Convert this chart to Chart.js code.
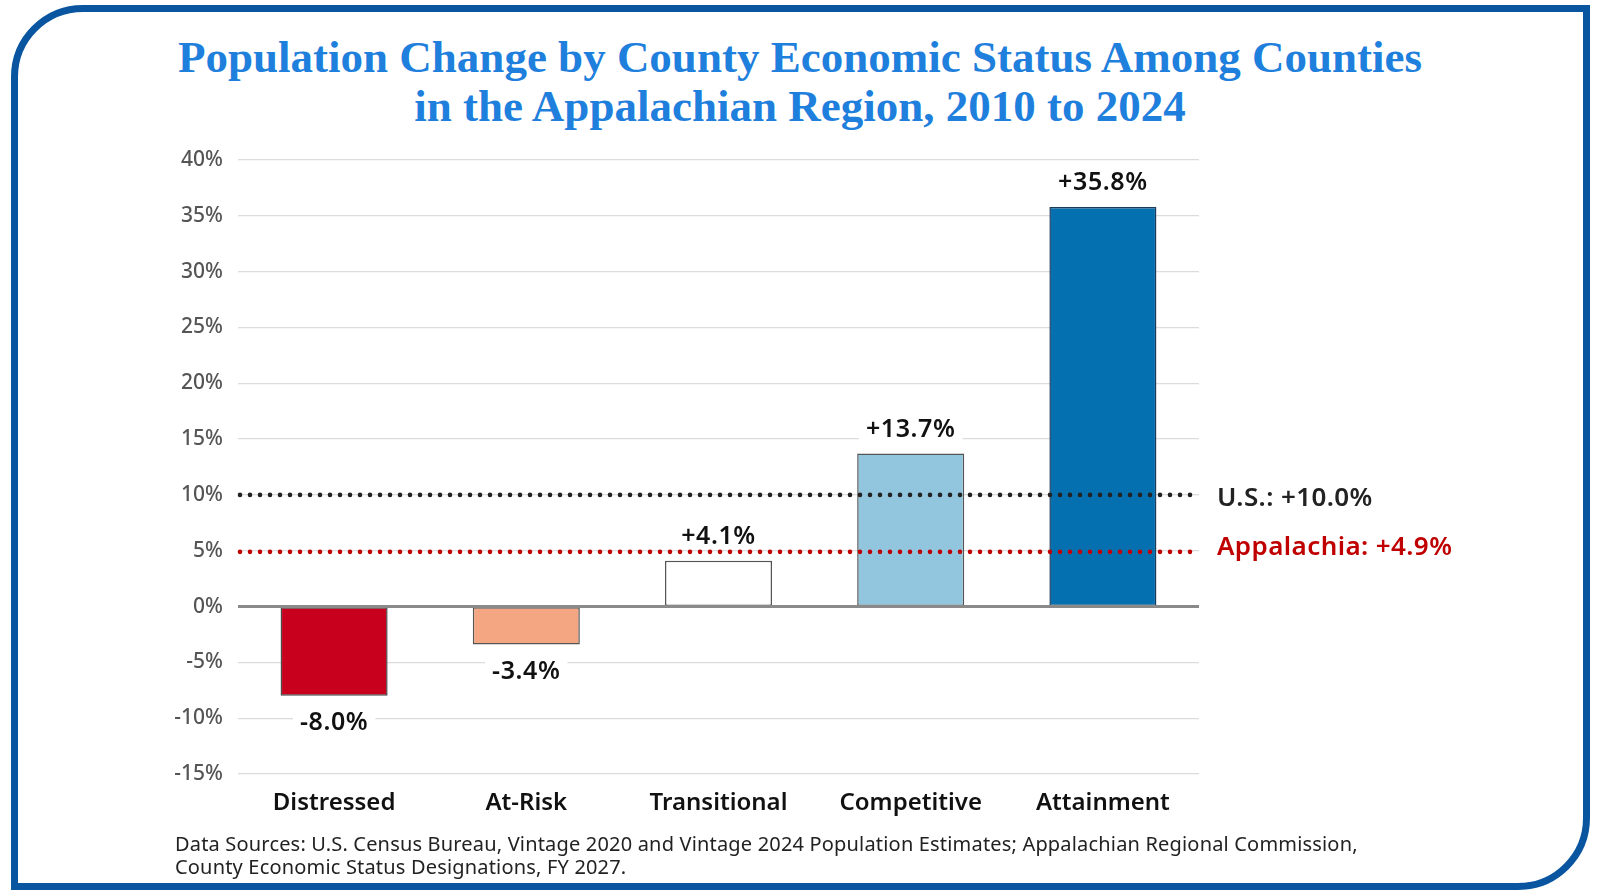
<!DOCTYPE html>
<html>
<head>
<meta charset="utf-8">
<script src="https://cdn.jsdelivr.net/npm/chart.js@4/dist/chart.umd.min.js"></script>
<style>
  html, body { margin: 0; padding: 0; background: #fff; }
  body { width: 1600px; height: 895px; position: relative; overflow: hidden; }
  #frame {
    position: absolute; left: 11px; top: 5px; width: 1565px; height: 871px;
    border: 7px solid #0a55a0; border-radius: 72px 0 72px 0;
  }
  .title {
    position: absolute; font-family: "Liberation Serif", serif; font-weight: bold;
    font-size: 45px; line-height: 49px; color: #1f7fdc; white-space: nowrap;
    transform: translateX(-50%);
  }
  #note {
    position: absolute; left: 175px; top: 832px; font-family: "Noto Sans", sans-serif;
    font-size: 20px; letter-spacing: 0.18px; line-height: 23px; color: #222; white-space: nowrap;
  }
  #wrap { position: absolute; left: 0; top: 0; width: 1600px; height: 895px; }
</style>
</head>
<body>
<div id="frame"></div>
<div class="title" style="left:800px; top:33px;">Population Change by County Economic Status Among Counties</div>
<div class="title" style="left:800px; top:82px;">in the Appalachian Region, 2010 to 2024</div>
<div id="wrap"><canvas id="myChart"></canvas></div>
<div id="note">Data Sources: U.S. Census Bureau, Vintage 2020 and Vintage 2024 Population Estimates; Appalachian Regional Commission,<br>County Economic Status Designations, FY 2027.</div>
<script>
const categories = ['Distressed', 'At-Risk', 'Transitional', 'Competitive', 'Attainment']
const changeValues = [-8.0, -3.4, 4.1, 13.7, 35.8]
const barColors = ['#c8001e', '#f4a582', '#ffffff', '#92c5de', '#0570b0']
const barBorders = ['#4a4a4a', '#555555', '#555555', '#555555', '#1d3c5c']

// reference lines (U.S. and Appalachia averages)
const refNames = ['U.S.', 'Appalachia']
const refValues = [10.0, 4.9]
const refColors = ['#222222', '#c00000']

const yTicks = [-15, -10, -5, 0, 5, 10, 15, 20, 25, 30, 35, 40]

const labelFont = '"Noto Sans", sans-serif'

function fmt(v) {
  return (v > 0 ? '+' : '') + v.toFixed(1) + '%'
}

const overlay = {
  id: 'overlay',
  afterDatasetsDraw(chart) {
    const ctx = chart.ctx
    const area = chart.chartArea
    const y = chart.scales.y
    const meta = chart.getDatasetMeta(0)

    // zero line on top of bars
    ctx.save()
    ctx.strokeStyle = '#8a8a8a'
    ctx.lineWidth = 3
    ctx.beginPath()
    ctx.moveTo(area.left, y.getPixelForValue(0))
    ctx.lineTo(area.right, y.getPixelForValue(0))
    ctx.stroke()

    // value labels
    ctx.font = '600 25px ' + labelFont
    ctx.letterSpacing = '0.6px'
    ctx.textAlign = 'center'
    ctx.textBaseline = 'middle'
    meta.data.forEach((bar, i) => {
      const v = changeValues[i]
      const txt = fmt(v)
      const ly = v >= 0 ? bar.y - 25 : bar.y + 26
      const w = ctx.measureText(txt).width + 14
      ctx.fillStyle = '#fff'
      ctx.fillRect(bar.x - w / 2, ly - 14, w, 28)
      ctx.fillStyle = '#111'
      ctx.fillText(txt, bar.x, ly + 1)
    })

    // dotted reference lines + labels
    refValues.forEach((v, i) => {
      const py = y.getPixelForValue(v)
      ctx.strokeStyle = refColors[i]
      ctx.lineWidth = 4.6
      ctx.lineCap = 'round'
      ctx.setLineDash([0, 10])
      ctx.beginPath()
      ctx.moveTo(area.left + 2, py)
      ctx.lineTo(area.right - 2, py)
      ctx.stroke()
      ctx.setLineDash([])
      ctx.font = '600 26px ' + labelFont
      ctx.letterSpacing = '0.4px'
      ctx.textAlign = 'left'
      ctx.fillStyle = refColors[i]
      ctx.fillText(refNames[i] + ': ' + fmt(v), area.right + 18, py + 4 + (i === 1 ? -8 : 0))
    })
    ctx.restore()
  }
}

var ctx = document.getElementById('myChart')
var lineChart = new Chart(ctx, {
  type: 'bar',
  data: {
    labels: categories,
    datasets: [{
      data: changeValues,
      backgroundColor: barColors,
      borderColor: barBorders,
      borderWidth: 1.5,
      borderSkipped: false,
      barPercentage: 0.557,
      categoryPercentage: 1.0
    }]
  },
  options: {
    responsive: true,
    maintainAspectRatio: false,
    animation: false,
    layout: { padding: { left: 0, right: 401, top: 160, bottom: 61 } },
    plugins: {
      legend: { display: false },
      tooltip: { enabled: false },
      title: { display: false }
    },
    scales: {
      x: {
        grid: { display: false },
        border: { display: false },
        ticks: {
          color: '#111',
          font: { family: labelFont, size: 24, weight: '600' },
          padding: 7
        },
        afterFit(scale) { scale.height = 60 }
      },
      y: {
        min: -15,
        max: 40,
        afterBuildTicks(scale) { scale.ticks = yTicks.map(v => ({ value: v })) },
        grid: { color: '#dcdcdc', lineWidth: 1.2, drawTicks: false },
        border: { display: false },
        ticks: {
          color: '#555',
          font: { family: labelFont, size: 21, weight: '500' },
          padding: 15,
          callback: v => v + '%'
        },
        afterFit(scale) { scale.width = 238 }
      }
    }
  },
  plugins: [overlay]
})
</script>
</body>
</html>
